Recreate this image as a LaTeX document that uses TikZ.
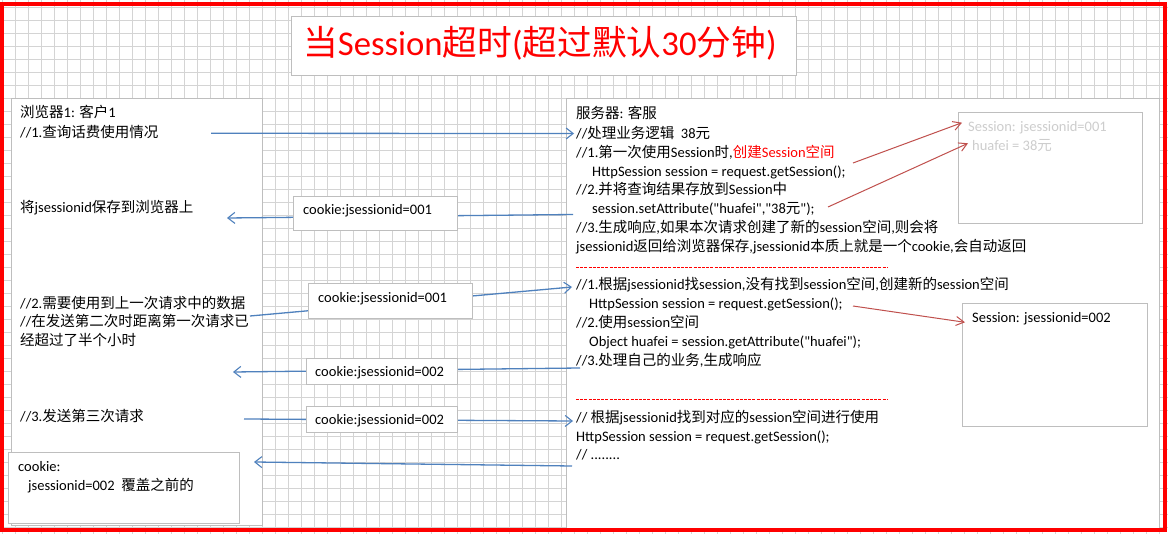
\documentclass[tikz,border=0pt]{standalone}
\usepackage{fontspec}
\setmainfont{Carlito}
\newfontfamily\latfont{Carlito}
\newfontfamily\zhfont{Noto Sans CJK SC}
\newcommand\zht[1]{{\zhfont #1}}
\usetikzlibrary{arrows.meta}
\definecolor{bluec}{RGB}{79,129,189}
\definecolor{redc}{RGB}{192,80,77}
\definecolor{gridc}{RGB}{212,212,212}
\definecolor{boxc}{RGB}{190,190,190}
\definecolor{faintc}{RGB}{205,205,205}
\tikzset{
  gridline/.style={draw=gridc, line width=0.8pt},
  panel/.style={draw=boxc, fill=white, line width=1pt, inner sep=0pt, outer sep=0pt, anchor=north west},
  txt/.style={anchor=base west, inner sep=0pt, font=\latfont\fontsize{14.5}{17}\selectfont},
  bluearr/.style={draw=bluec, line width=1.3pt, -{Straight Barb[length=7pt,width=11pt,line width=1.1pt]}},
  redarr/.style={draw=redc, line width=1pt, -{Straight Barb[length=8pt,width=9pt,line width=1pt]}},
  dashline/.style={draw=red, line width=1pt, dash pattern=on 3pt off 1.2pt}
}
\begin{document}
\begin{tikzpicture}[x=1pt,y=-1pt]
\useasboundingbox (0,0) rectangle (1168,534);
\fill[white] (0,0) rectangle (1168,534);
% background grid
\foreach \i in {0,...,89} {\draw[gridline] ({2.7+13*\i},0) -- ({2.7+13*\i},534);}
\foreach \j in {0,...,40} {\draw[gridline] (0,{7.3+13*\j}) -- (1168,{7.3+13*\j});}

% title
\node[panel, minimum width=505pt, minimum height=59pt] (titlebox) at (291,17) {};
\node[anchor=base west, inner sep=0pt, text=red, font=\latfont\fontsize{34.7}{40}\selectfont] (title) at (303,55.5) {\zht{当}Session\zht{超时}(\zht{超过默认}30\zht{分钟})};

% browser panel
\node[panel, minimum width=251pt, minimum height=426pt] (browser) at (11,99) {};
\node[txt] (b1) at (20,117.5) {\zht{浏览器}1: \zht{客户}1};
\node[txt] (b2) at (20,137.5) {//1.\zht{查询话费使用情况}};
\node[txt] (b3) at (20,213) {\zht{将}jsessionid\zht{保存到浏览器上}};
\node[txt] (b4) at (20,308.3) {//2.\zht{需要使用到上一次请求中的数据}};
\node[txt] (b5) at (20,326.7) {//\zht{在发送第二次时距离第一次请求已}};
\node[txt] (b6) at (20,345.7) {\zht{经超过了半个小时}};
\node[txt] (b7) at (20,421.7) {//3.\zht{发送第三次请求}};

% server panel
\node[panel, minimum width=593pt, minimum height=429pt] (server) at (566,99) {};
\node[txt] (s1) at (576,118.3) {\zht{服务器}: \zht{客服}};
\node[txt] (s2) at (576,138.3) {//\zht{处理业务逻辑}\ \ 38\zht{元}};
\node[txt] (s3) at (576,157.3) {//1.\zht{第一次使用}Session\zht{时},\textcolor{red}{\zht{创建}Session\zht{空间}}};
\node[txt] (s4) at (592,176.7) {HttpSession session = request.getSession();};
\node[txt] (s5) at (576,195) {//2.\zht{并将查询结果存放到}Session\zht{中}};
\node[txt] (s6) at (592,214) {session.setAttribute("huafei","38\zht{元}");};
\node[txt] (s7) at (576,232.7) {//3.\zht{生成响应},\zht{如果本次请求创建了新的}session\zht{空间},\zht{则会将}};
\node[txt] (s8) at (576,251.7) {jsessionid\zht{返回给浏览器保存},jsessionid\zht{本质上就是一个}cookie,\zht{会自动返回}};
\coordinate (d1a) at (576,268);
\coordinate (d1b) at (888,268);
\draw[dashline] (d1a) -- (d1b);
\node[txt] (s9) at (576,290) {//1.\zht{根据}jsessionid\zht{找}session,\zht{没有找到}session\zht{空间},\zht{创建新的}session\zht{空间}};
\node[txt] (s10) at (589,309) {HttpSession session = request.getSession();};
\node[txt] (s11) at (576,327.7) {//2.\zht{使用}session\zht{空间}};
\node[txt] (s12) at (589,347) {Object huafei = session.getAttribute("huafei");};
\node[txt] (s13) at (576,366) {//3.\zht{处理自己的业务},\zht{生成响应}};
\coordinate (d2a) at (576,400);
\coordinate (d2b) at (888,400);
\draw[dashline] (d2a) -- (d2b);
\node[txt] (s14) at (576,422.7) {// \zht{根据}jsessionid\zht{找到对应的}session\zht{空间进行使用}};
\node[txt] (s15) at (576,441.7) {HttpSession session = request.getSession();};
\node[txt] (s16) at (576,460) {// ........};

% session spaces
\node[panel, minimum width=184pt, minimum height=111pt] (sess1) at (958,113) {};
\node[txt, text=faintc] (sess1a) at (968,131.7) {Session: jsessionid=001};
\node[txt, text=faintc] (sess1b) at (972,150.7) {huafei = 38\zht{元}};
\node[panel, minimum width=185pt, minimum height=123pt] (sess2) at (962,304) {};
\node[txt] (sess2a) at (972,322.7) {Session: jsessionid=002};

% red arrows
\coordinate (r1s) at (853,163);
\coordinate (r1e) at (962,122.7);
\coordinate (r2s) at (828,207);
\coordinate (r2e) at (968,143.3);
\coordinate (r3s) at (853,306);
\coordinate (r3e) at (965,322.3);
\draw[redarr] (r1s) -- (r1e);
\draw[redarr] (r2s) -- (r2e);
\draw[redarr] (r3s) -- (r3e);

% blue connectors
\coordinate (a1s) at (211,133.3);
\coordinate (a1e) at (574,133.5);
\coordinate (a2s) at (573,214.5);
\coordinate (a2e) at (227,218);
\coordinate (a3s) at (250,316);
\coordinate (a3e) at (572,287);
\coordinate (a4s) at (580,368);
\coordinate (a4e) at (233,372);
\coordinate (a5s) at (244,419);
\coordinate (a5e) at (573,421);
\coordinate (a6s) at (572,466);
\coordinate (a6e) at (254,462);
\draw[bluearr] (a1s) -- (a1e);
\draw[bluearr] (a2s) -- (a2e);
\draw[bluearr] (a3s) -- (a3e);
\draw[bluearr] (a4s) -- (a4e);
\draw[bluearr] (a5s) -- (a5e);
\draw[bluearr] (a6s) -- (a6e);

% cookie boxes
\node[panel, minimum width=164pt, minimum height=34pt] (c1) at (293,197) {};
\node[txt] (c1t) at (303,215) {cookie:jsessionid=001};
\node[panel, minimum width=164pt, minimum height=35pt] (c2) at (308,284) {};
\node[txt] (c2t) at (318,302.3) {cookie:jsessionid=001};
\node[panel, minimum width=151pt, minimum height=26pt] (c3) at (306,359) {};
\node[txt] (c3t) at (315,376.7) {cookie:jsessionid=002};
\node[panel, minimum width=151pt, minimum height=26pt] (c4) at (306,407) {};
\node[txt] (c4t) at (315,425) {cookie:jsessionid=002};

% browser cookie store
\node[panel, minimum width=231pt, minimum height=70pt] (store) at (8,453) {};
\node[txt] (st1) at (18,471.7) {cookie:};
\node[txt] (st2) at (28,490) {jsessionid=002\ \ \zht{覆盖之前的}};

% outer red frame
\draw[red, line width=4pt] (1.8,4.3) rectangle (1165,529.5);
\end{tikzpicture}
\end{document}
